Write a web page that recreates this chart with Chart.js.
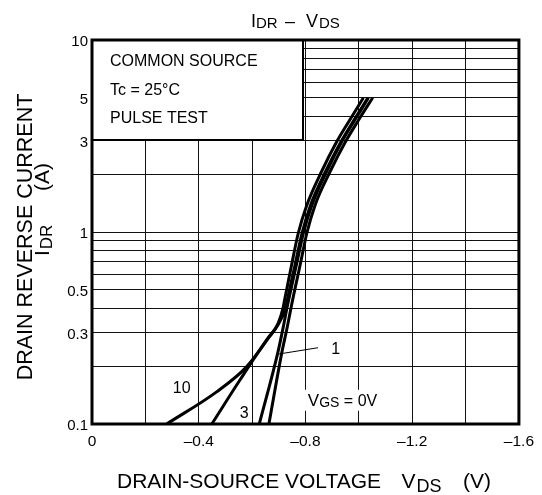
<!DOCTYPE html>
<html>
<head>
<meta charset="utf-8">
<script src="https://cdn.jsdelivr.net/npm/chart.js@4.4.1/dist/chart.umd.min.js"></script>
<style>
  html, body { margin: 0; padding: 0; background: #fff; }
  #wrap { width: 542px; height: 495px; position: relative; }
</style>
</head>
<body>
<div id="wrap"><canvas id="chart"></canvas></div>
<script>
const FONT = '"Liberation Sans", Arial, Helvetica, sans-serif';

// axis grid and tick labels
const xGridValues = [0, -0.2, -0.4, -0.6, -0.8, -1.0, -1.2, -1.4, -1.6];
const xLabelValues = [0, -0.4, -0.8, -1.2, -1.6];
const yGridValues = [0.1, 0.2, 0.3, 0.4, 0.5, 0.6, 0.7, 0.8, 0.9, 1, 2, 3, 4, 5, 6, 7, 8, 9, 10];
const yLabelValues = [0.1, 0.3, 0.5, 1, 3, 5, 10];

// curves, VDS (V) vs IDR (A), one pair per VGS
const vgsValues = ['10', '3', '1', '0'];
const vds10 = [-0.28, -0.467, -0.58, -0.661, -0.698, -0.717, -0.723, -0.748, -0.773, -0.805, -0.860, -0.917, -0.966, -1.017];
const idr10 = [0.1, 0.147, 0.199, 0.280, 0.335, 0.408, 0.452, 0.673, 0.985, 1.38, 2.06, 2.95, 3.83, 5.0];
const vds3 = [-0.449, -0.555, -0.660, -0.697, -0.723, -0.740, -0.761, -0.787, -0.819, -0.875, -0.933, -0.982, -1.034];
const idr3 = [0.1, 0.170, 0.281, 0.328, 0.393, 0.499, 0.673, 0.985, 1.38, 2.06, 2.95, 3.83, 5.0];
const vds1 = [-0.627, -0.696, -0.717, -0.733, -0.766, -0.792, -0.824, -0.879, -0.936, -0.985, -1.036];
const idr1 = [0.1, 0.234, 0.321, 0.417, 0.673, 0.985, 1.38, 2.06, 2.95, 3.83, 5.0];
const vds0 = [-0.663, -0.711, -0.732, -0.748, -0.780, -0.805, -0.836, -0.892, -0.950, -0.999, -1.052];
const idr0 = [0.1, 0.234, 0.321, 0.417, 0.673, 0.985, 1.38, 2.06, 2.95, 3.83, 5.0];

const seriesV = [vds10, vds3, vds1, vds0];
const seriesI = [idr10, idr3, idr1, idr0];

// text notes placed in data units
const curveNotes = [
  { text: '10', v: -0.336, i: 0.1456 },
  { text: '3', v: -0.5706, i: 0.1071 },
  { text: '1', v: -0.913, i: 0.2307 }
];

function fmtX(v) {
  if (v === 0) return '0';
  return '\u2013' + Math.abs(v).toFixed(1);
}

function whiteText(ctx, text, x, y) {
  const w = ctx.measureText(text).width;
  ctx.fillStyle = '#fff';
  ctx.fillRect(x - w / 2 - 3, y - 14, w + 6, 17);
  ctx.fillStyle = '#000';
  ctx.textAlign = 'center';
  ctx.fillText(text, x, y);
}

const decor = {
  id: 'decor',
  beforeDatasetsDraw(chart) {
    const { ctx, chartArea: a, scales: { x, y } } = chart;
    ctx.save();
    ctx.textBaseline = 'alphabetic';

    // condition box
    ctx.fillStyle = '#fff';
    ctx.fillRect(a.left, a.top, 211, 100);
    ctx.strokeStyle = '#000';
    ctx.lineWidth = 2;
    ctx.strokeRect(a.left, a.top, 211, 100);
    ctx.fillStyle = '#000';
    ctx.font = '16px ' + FONT;
    ctx.textAlign = 'left';
    ctx.fillText('COMMON SOURCE', a.left + 18, a.top + 26);
    ctx.fillText('Tc = 25\u00B0C', a.left + 18, a.top + 55);
    ctx.fillText('PULSE TEST', a.left + 18, a.top + 83);

    // curve labels
    ctx.font = '16px ' + FONT;
    curveNotes.forEach(n => {
      whiteText(ctx, n.text, x.getPixelForValue(n.v), y.getPixelForValue(n.i));
    });

    // leader to the VGS = 1 curve
    ctx.strokeStyle = '#000';
    ctx.lineWidth = 1;
    ctx.beginPath();
    ctx.moveTo(x.getPixelForValue(-0.847), y.getPixelForValue(0.2496));
    ctx.lineTo(x.getPixelForValue(-0.694), y.getPixelForValue(0.2307));
    ctx.stroke();

    // VGS = 0V
    const vx = x.getPixelForValue(-0.809);
    const vy = y.getPixelForValue(0.1245);
    ctx.fillStyle = '#fff';
    ctx.fillRect(vx - 3, vy - 16, 80, 21);
    ctx.fillStyle = '#000';
    ctx.textAlign = 'left';
    ctx.font = '17px ' + FONT;
    ctx.fillText('V', vx, vy);
    let cx = vx + ctx.measureText('V').width;
    ctx.font = '14px ' + FONT;
    ctx.fillText('GS', cx, vy + 1);
    cx += ctx.measureText('GS').width;
    ctx.font = '16px ' + FONT;
    ctx.fillText(' = 0V', cx, vy);
    ctx.restore();
  },
  afterDraw(chart) {
    const { ctx, chartArea: a } = chart;
    ctx.save();
    ctx.strokeStyle = '#000';
    ctx.lineWidth = 3;
    ctx.strokeRect(a.left, a.top, a.right - a.left, a.bottom - a.top);

    ctx.fillStyle = '#000';
    ctx.textBaseline = 'alphabetic';
    ctx.textAlign = 'left';

    // title  I_DR – V_DS
    ctx.font = '18px ' + FONT;
    ctx.fillText('I', 251, 26.5);
    ctx.fillText('\u2013', 285, 26.5);
    ctx.fillText('V', 306, 26.5);
    ctx.font = '15px ' + FONT;
    ctx.fillText('DR', 256, 28);
    ctx.fillText('DS', 319, 28);

    // x axis title
    ctx.font = '21px ' + FONT;
    ctx.fillText('DRAIN-SOURCE VOLTAGE', 117, 488);
    ctx.fillText('V', 401.5, 488);
    ctx.fillText('(V)', 463, 488);
    ctx.font = '18px ' + FONT;
    ctx.fillText('DS', 416.5, 492);

    // y axis title
    ctx.save();
    ctx.translate(31.5, 237);
    ctx.rotate(-Math.PI / 2);
    ctx.textAlign = 'center';
    ctx.font = '21.5px ' + FONT;
    ctx.fillText('DRAIN REVERSE CURRENT', 0, 0);
    ctx.restore();

    ctx.save();
    ctx.translate(48.5, 256);
    ctx.rotate(-Math.PI / 2);
    ctx.textAlign = 'left';
    ctx.font = '21px ' + FONT;
    ctx.fillText('I', 0, 0);
    const iw = ctx.measureText('I').width;
    ctx.font = '17px ' + FONT;
    ctx.fillText('DR', iw + 1, 3);
    ctx.font = '21px ' + FONT;
    ctx.textAlign = 'right';
    ctx.fillText('(A)', 93, 0);
    ctx.restore();

    ctx.restore();
  }
};

const datasets = vgsValues.map((vgs, k) => ({
  label: 'VGS = ' + vgs + 'V',
  data: seriesV[k].map((v, i) => ({ x: v, y: seriesI[k][i] })),
  showLine: true,
  borderColor: '#000',
  borderWidth: 3,
  pointRadius: 0,
  fill: false,
  cubicInterpolationMode: 'monotone'
}));

new Chart(document.getElementById('chart'), {
  type: 'scatter',
  data: { datasets },
  options: {
    responsive: true,
    maintainAspectRatio: false,
    animation: false,
    layout: { padding: { top: 40, right: 23, left: 0, bottom: 0 } },
    plugins: {
      legend: { display: false },
      tooltip: { enabled: false }
    },
    scales: {
      x: {
        type: 'linear',
        min: -1.6,
        max: 0,
        reverse: true,
        afterBuildTicks: s => { s.ticks = xGridValues.map(v => ({ value: v })); },
        afterFit: s => { s.height = 71; },
        grid: { color: '#111', lineWidth: 1, drawTicks: false },
        border: { display: false },
        ticks: {
          autoSkip: false,
          maxRotation: 0,
          padding: 8,
          color: '#000',
          font: { family: FONT, size: 15.5 },
          callback: v => xLabelValues.includes(v) ? fmtX(v) : ''
        }
      },
      y: {
        type: 'logarithmic',
        min: 0.1,
        max: 10,
        afterBuildTicks: s => { s.ticks = yGridValues.map(v => ({ value: v })); },
        afterFit: s => { s.width = 92; },
        grid: { color: '#111', lineWidth: 1, drawTicks: false },
        border: { display: false },
        ticks: {
          autoSkip: false,
          padding: 4,
          labelOffset: 2,
          color: '#000',
          font: { family: FONT, size: 15 },
          callback: v => yLabelValues.includes(v) ? String(v) : ''
        }
      }
    }
  },
  plugins: [decor]
});
</script>
</body>
</html>
